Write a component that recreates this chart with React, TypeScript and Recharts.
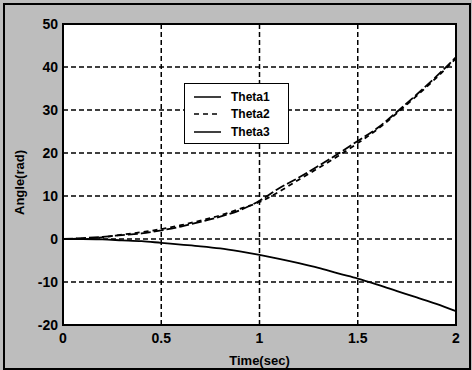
import React from 'react';
import { LineChart, Line, XAxis, YAxis, CartesianGrid, ReferenceArea, Label } from 'recharts';

const time = [0, 0.1, 0.2, 0.3, 0.4, 0.5, 0.6, 0.7, 0.8, 0.9, 1.0, 1.1, 1.2, 1.3, 1.4, 1.5, 1.6, 1.7, 1.8, 1.9, 2.0];
const theta1 = [0, 0, -0.1, -0.3, -0.5, -0.9, -1.3, -1.7, -2.2, -2.9, -3.7, -4.6, -5.6, -6.7, -8.0, -9.2, -10.6, -12.1, -13.6, -15.1, -16.8];
const theta2 = [0, 0.1, 0.4, 1.0, 1.6, 2.3, 3.2, 4.3, 5.5, 7.0, 8.6, 11.0, 13.8, 16.5, 19.3, 22.3, 25.5, 29.3, 33.3, 37.5, 42.0];
const theta3 = [0, 0.2, 0.5, 0.9, 1.3, 2.0, 2.9, 4.0, 5.2, 6.7, 8.9, 11.8, 14.3, 17.0, 19.8, 22.8, 25.8, 29.6, 33.6, 37.8, 42.3];
const xTicks = [0, 0.5, 1, 1.5, 2];
const yTicks = [-20, -10, 0, 10, 20, 30, 40, 50];
const seriesNames = ['Theta1', 'Theta2', 'Theta3'];

const data = time.map((t, i) => ({ t, Theta1: theta1[i], Theta2: theta2[i], Theta3: theta3[i] }));

const dashes = ['', '5 4', '10 3'];
const font = 'Arial, "Liberation Sans", sans-serif';

const LegendBox = () => (
  <div style={{ position: 'absolute', left: 184, top: 83, border: '1.5px solid #000', background: '#fff', width: 105, height: 61, boxSizing: 'border-box', padding: '4px 0 0 8px', fontFamily: font, fontSize: 12, fontWeight: 'bold', color: '#000' }}>
    {seriesNames.map((n, i) => (
      <div key={n} style={{ display: 'flex', alignItems: 'center', height: 17.5 }}>
        <svg width={30} height={10} style={{ marginRight: 8 }}>
          <line x1={1} y1={5} x2={28} y2={5} stroke="#000" strokeWidth={1.5} strokeDasharray={i === 1 ? '5 4' : undefined} />
        </svg>
        <span>{n}</span>
      </div>
    ))}
  </div>
);

const tickStyle = { fill: '#000', fontSize: 14, fontWeight: 'bold', fontFamily: font };

const YLabel = (props: any) => {
  const vb = props.viewBox || { x: 0, y: 24, width: 63, height: 301 };
  const cx = 19;
  const cy = vb.y + vb.height / 2 + 8;
  return (
    <text x={cx} y={cy} transform={`rotate(-90, ${cx}, ${cy})`} textAnchor="middle" dominantBaseline="central" fill="#000" fontSize={13} fontWeight="bold" fontFamily={font}>
      Angle(rad)
    </text>
  );
};

export default function App() {
  return (
    <div style={{ position: 'absolute', left: 0, top: 0, width: 472, height: 370, background: '#bdbdbd' }}>
      <div style={{ position: 'absolute', left: 3, top: 3, width: 464, height: 363, border: '2px solid #000' }} />
      <LineChart width={472} height={370} data={data} margin={{ top: 24, right: 16, bottom: 0, left: 0 }}>
        <CartesianGrid fill="#fff" stroke="#000" strokeWidth={1.5} strokeDasharray="5 3" />
        <XAxis dataKey="t" type="number" domain={[0, 2]} ticks={xTicks} height={45} tickLine={false} tickSize={0} tickMargin={8} axisLine={{ stroke: '#000', strokeWidth: 2 }} tick={tickStyle}>
          <Label value="Time(sec)" position="insideBottom" offset={5} style={{ ...tickStyle, fontSize: 13 }} />
        </XAxis>
        <YAxis type="number" domain={[-20, 50]} ticks={yTicks} width={63} tickLine={false} tickSize={0} tickMargin={5} axisLine={{ stroke: '#000', strokeWidth: 2 }} tick={tickStyle}>
          <Label content={<YLabel />} />
        </YAxis>
        <ReferenceArea x1={0} x2={2} y1={-20} y2={50} fill="none" stroke="#000" strokeWidth={2} />
        {seriesNames.map((n, i) => (
          <Line key={n} dataKey={n} type="monotone" stroke="#000" strokeWidth={1.8} strokeDasharray={dashes[i] || undefined} dot={false} isAnimationActive={false} />
        ))}
      </LineChart>
      <LegendBox />
    </div>
  );
}
